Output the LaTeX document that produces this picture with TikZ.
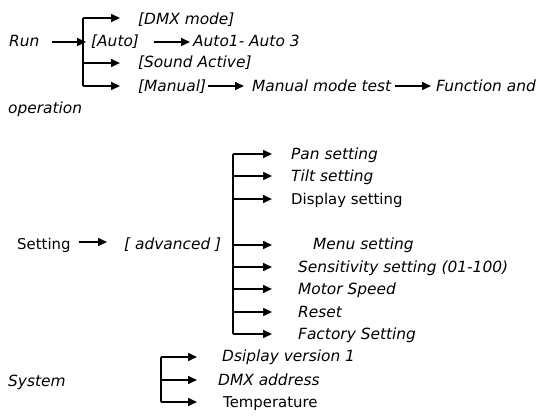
\documentclass[tikz,border=0pt]{standalone}
\usepackage{fontspec}
\setmainfont{DejaVu Sans}
\usetikzlibrary{arrows.meta}
\tikzset{
  txt/.style={anchor=base west, inner sep=0pt, font=\fontsize{14.9}{17}\selectfont},
  itxt/.style={txt, font=\fontsize{15.4}{17}\selectfont\itshape},
  arr/.style={line width=1.6pt, -{Triangle[length=9pt,width=8pt]}},
  trunk/.style={line width=1.6pt},
}
\begin{document}
\begin{tikzpicture}[x=1pt,y=-1pt]
\useasboundingbox (0,0) rectangle (550,417);
% ---------- Run ----------
\node[itxt] (run) at (9,47) {Run};
\node[itxt] (dmx) at (138,25) {[DMX mode]};
\node[itxt] (auto) at (91,47) {[Auto]};
\node[itxt] (auto13) at (193,47) {Auto1- Auto 3};
\node[itxt] (sound) at (138,68) {[Sound Active]};
\node[itxt] (manual) at (138,92) {[Manual]};
\node[itxt] (mtest) at (252,92) {Manual mode test};
\node[itxt] (func) at (436,92) {Function and};
\node[itxt] (oper) at (8,114) {operation};
\coordinate (r0) at (83,18);
\coordinate (r1) at (83,42);
\coordinate (r2) at (83,63);
\coordinate (r3) at (83,86);
\draw[trunk] (r0) -- (r3);
\draw[arr, shorten <=12pt, shorten >=5pt] (run.east |- r1) -- (auto.west |- r1);
\draw[arr, shorten >=18pt] (r0) -- (r0 -| dmx.west);
\draw[arr, shorten >=18pt] (r2) -- (r2 -| sound.west);
\draw[arr, shorten >=18pt] (r3) -- (r3 -| manual.west);
\draw[arr, shorten <=15pt, shorten >=3pt] (auto.east |- r1) -- (auto13.west |- r1);
\draw[arr, shorten <=2pt, shorten >=8pt] (manual.east |- r3) -- (mtest.west |- r3);
\draw[arr, shorten <=4pt, shorten >=5pt] (mtest.east |- r3) -- (func.west |- r3);
% ---------- Setting ----------
\node[txt] (setting) at (17,250) {Setting};
\node[itxt] (adv) at (124,250) {[ advanced ]};
\coordinate (s0) at (233,242);
\draw[arr, shorten <=8pt, shorten >=17pt] (setting.east |- s0) -- (adv.west |- s0);
\node[itxt] (pan) at (291,160) {Pan setting};
\node[itxt] (tilt) at (291,182) {Tilt setting};
\node[txt] (disp) at (291,205) {Display setting};
\node[itxt] (menu) at (313,250) {Menu setting};
\node[itxt] (sens) at (298,273) {Sensitivity setting (01-100)};
\node[itxt] (motor) at (298,295) {Motor Speed};
\node[itxt] (reset) at (298,318) {Reset};
\node[itxt] (fact) at (298,340) {Factory Setting};
\coordinate (t1) at (233,154);
\coordinate (t2) at (233,176);
\coordinate (t3) at (233,199);
\coordinate (t4) at (233,245);
\coordinate (t5) at (233,267);
\coordinate (t6) at (233,289);
\coordinate (t7) at (233,312);
\coordinate (t8) at (233,334);
\draw[trunk] (t1) -- (t8);
\draw[arr, shorten >=19pt] (t1) -- (t1 -| pan.west);
\draw[arr, shorten >=19pt] (t2) -- (t2 -| tilt.west);
\draw[arr, shorten >=19pt] (t3) -- (t3 -| disp.west);
\draw[arr, shorten >=41pt] (t4) -- (t4 -| menu.west);
\draw[arr, shorten >=26pt] (t5) -- (t5 -| sens.west);
\draw[arr, shorten >=26pt] (t6) -- (t6 -| motor.west);
\draw[arr, shorten >=26pt] (t7) -- (t7 -| reset.west);
\draw[arr, shorten >=26pt] (t8) -- (t8 -| fact.west);
% ---------- System ----------
\node[itxt] (system) at (8,387) {System};
\node[itxt] (dver) at (222,362) {Dsiplay version 1};
\node[itxt] (dmxa) at (218,385) {DMX address};
\node[txt] (temp) at (223,407) {Temperature};
\coordinate (u1) at (161,357);
\coordinate (u2) at (161,380);
\coordinate (u3) at (161,402);
\draw[trunk] (u1) -- (u3);
\draw[arr, shorten >=25pt] (u1) -- (u1 -| dver.west);
\draw[arr, shorten >=21pt] (u2) -- (u2 -| dmxa.west);
\draw[arr, shorten >=26pt] (u3) -- (u3 -| temp.west);
\end{tikzpicture}
\end{document}
